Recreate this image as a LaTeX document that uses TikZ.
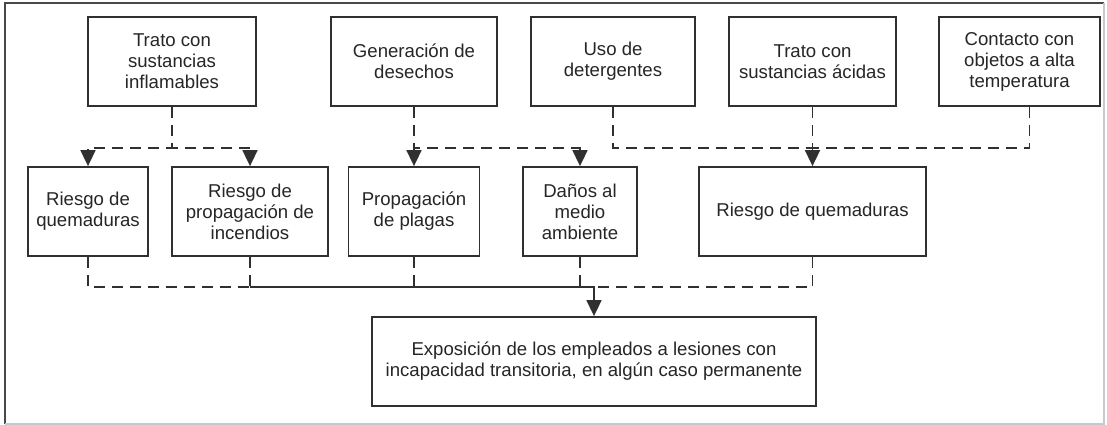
\documentclass[tikz,border=0pt]{standalone}
\usepackage{fontspec}
\setmainfont{Liberation Sans}
\usetikzlibrary{arrows.meta}
\definecolor{boxline}{HTML}{303030}
\definecolor{txt}{HTML}{262626}
\definecolor{frameDark}{HTML}{484848}
\definecolor{frameLight}{HTML}{C8C8C8}
\tikzset{
  box/.style={draw=boxline, line width=1.8pt, fill=white, text=txt, align=center,
    minimum height=89pt, inner sep=0pt, font=\fontsize{18.6}{21}\selectfont},
  dashconn/.style={draw=boxline, line width=1.7pt, dash pattern=on 11pt off 7pt},
  solidconn/.style={draw=boxline, line width=1.7pt},
  tip/.style={-{Triangle[length=16pt,width=15pt]}},
}
\begin{document}
\begin{tikzpicture}[x=1pt,y=-1pt]
\useasboundingbox (0,0) rectangle (1107,425);
\fill[white] (0,0) rectangle (1107,425);
\draw[frameDark, line width=2pt] (5,424) -- (5,3) -- (1104,3);
\draw[frameLight, line width=1.5pt] (1104,3) -- (1104,424) -- (5,424);

% top row
\node[box, minimum width=168pt] (A) at (172,61.5) {Trato con\\sustancias\\inflamables};
\node[box, minimum width=166pt] (B) at (414,61.5) {Generación de\\desechos};
\node[box, minimum width=164pt] (C) at (613,61.5) {Uso de\\detergentes};
\node[box, minimum width=167pt] (D) at (812.5,61.5) {Trato con\\sustancias ácidas};
\node[box, minimum width=161pt] (E) at (1019.5,61.5) {Contacto con\\objetos a alta\\temperatura};

% middle row
\node[box, minimum width=120pt] (M1) at (88,211.5) {Riesgo de\\quemaduras};
\node[box, minimum width=156pt] (M2) at (250,211.5) {Riesgo de\\propagación de\\incendios};
\node[box, minimum width=131pt] (M3) at (414,211.5) {Propagación\\de plagas};
\node[box, minimum width=114pt] (M4) at (580,211.5) {Daños al\\medio\\ambiente};
\node[box, minimum width=227pt] (M5) at (812.5,211.5) {Riesgo de quemaduras};

% bottom
\node[box, minimum width=444pt] (X) at (594,361.5) {Exposición de los empleados a lesiones con\\incapacidad transitoria, en algún caso permanente};

\coordinate (tb) at (0,148);
\coordinate (bb) at (0,287);
\coordinate (Eo) at ([xshift=10pt]E.south);

% top connectors
\draw[dashconn, tip] (A.south) -- (A.south|-tb) -| (M1.north);
\draw[dashconn, tip] (A.south) -- (A.south|-tb) -| (M2.north);
\draw[dashconn, tip] (B.south) -- (M3.north);
\draw[dashconn, tip] (B.south) -- (B.south|-tb) -| (M4.north);
\draw[dashconn] (C.south) -- (C.south|-tb) -- (M5.north|-tb);
\draw[dashconn] (Eo) -- (Eo|-tb) -- (M5.north|-tb);
\draw[dashconn] (D.south) -- (D.south|-tb);
\draw[solidconn, tip] (M5.north|-tb) -- (M5.north);

% bottom connectors
\draw[dashconn] (M1.south) -- (M1.south|-bb) -- (M2.south|-bb);
\draw[dashconn] (M2.south) -- (M2.south|-bb);
\draw[dashconn] (M3.south) -- (M3.south|-bb);
\draw[dashconn] (M4.south) -- (M4.south|-bb);
\draw[dashconn] (M5.south) -- (M5.south|-bb) -- (X.north|-bb);
\draw[solidconn, tip] (M2.south|-bb) -- (X.north|-bb) -- (X.north);
\end{tikzpicture}
\end{document}
